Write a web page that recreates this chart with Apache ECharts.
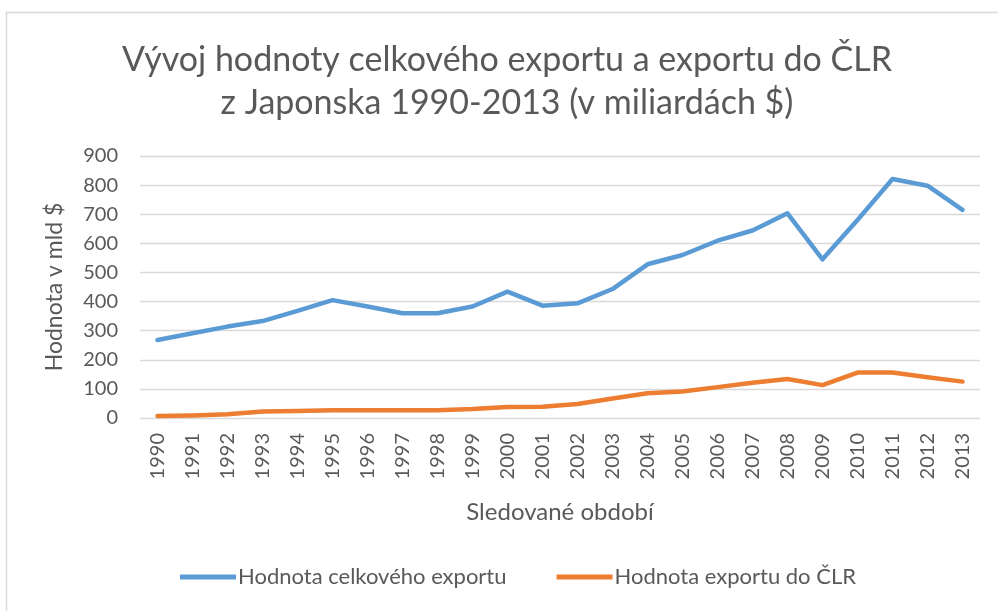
<!DOCTYPE html>
<html><head><meta charset="utf-8">
<script src="https://cdn.jsdelivr.net/npm/echarts@6/dist/echarts.min.js"></script>
<style>html,body{margin:0;padding:0;background:#fff;}#c{width:998px;height:611px;}</style>
</head><body><div id="c"></div>
<script>
const years = ['1990','1991','1992','1993','1994','1995','1996','1997','1998','1999','2000','2001','2002','2003','2004','2005','2006','2007','2008','2009','2010','2011','2012','2013'];
const totalExport = [268,291,314,333,368,405,383,360,360,383,434,386,394,443,528,560,609,644,703,545,680,821,798,715];
const chinaExport = [7,9,13,22,24,27,27,27,27,31,38,39,48,67,85,91,106,121,134,113,156,156,140,125];
const seriesNames = ['Hodnota celkového exportu','Hodnota exportu do ČLR'];
const yTicks = [0,100,200,300,400,500,600,700,800,900];

const font = 'Lato';
const txt = '#595959';
const chart = echarts.init(document.getElementById('c'), null, {renderer:'canvas'});
chart.setOption({
  animation:false,
  backgroundColor:'#fff',
  graphic:[{type:'rect',shape:{x:6.5,y:12.5,width:1100,height:700},style:{fill:'none',stroke:'#d9d9d9',lineWidth:1.5},silent:true,z:-1}],
  title:{
    text:'Vývoj hodnoty celkového exportu a exportu do ČLR\nz Japonska 1990-2013 (v miliardách $)',
    left:502, textAlign:'center', top:34,
    textStyle:{fontFamily:font,fontSize:34,fontWeight:'normal',color:txt,lineHeight:43}
  },
  legend:{
    bottom:18, left:175, itemGap:50, itemWidth:56, itemHeight:5,
    icon:'rect',
    textStyle:{fontFamily:font,fontSize:22,color:txt,padding:[0,0,0,-3]},
    data:seriesNames
  },
  grid:{left:140,right:18,top:156,bottom:193},
  xAxis:{
    type:'category', data:years, boundaryGap:true,
    name:'Sledované období', nameLocation:'middle', nameGap:82,
    nameTextStyle:{fontFamily:font,fontSize:24,color:txt},
    axisLine:{show:true,lineStyle:{color:'#d9d9d9',width:1}},
    axisTick:{show:false},
    axisLabel:{rotate:90,fontFamily:font,fontSize:20,color:txt,margin:15,interval:0}
  },
  yAxis:{
    type:'value', min:0, max:900, interval:100,
    name:'Hodnota v mld $', nameLocation:'middle', nameGap:74,
    nameTextStyle:{fontFamily:font,fontSize:23,color:txt},
    axisLine:{show:false}, axisTick:{show:false},
    axisLabel:{fontFamily:font,fontSize:20,color:txt,margin:22},
    splitLine:{lineStyle:{color:'#d9d9d9',width:1.3}}
  },
  series:[
    {name:seriesNames[0],type:'line',data:totalExport,symbol:'none',lineStyle:{width:4.5,color:'#5B9BD5',cap:'round',join:'round'},itemStyle:{color:'#5B9BD5'}},
    {name:seriesNames[1],type:'line',data:chinaExport,symbol:'none',lineStyle:{width:4.5,color:'#ED7D31',cap:'round',join:'round'},itemStyle:{color:'#ED7D31'}}
  ]
});
</script></body></html>
